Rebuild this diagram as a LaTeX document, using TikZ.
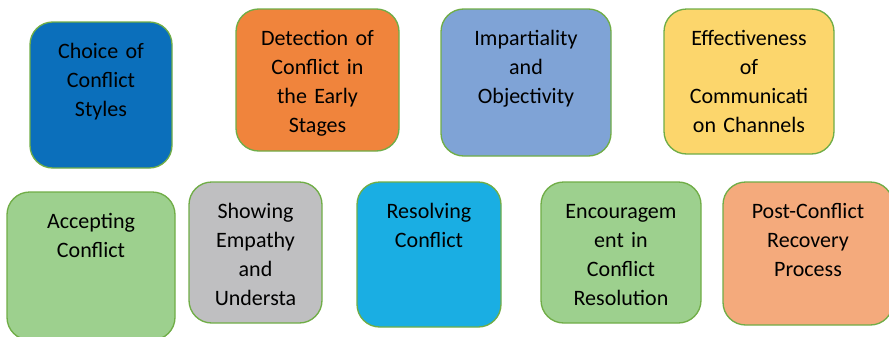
\documentclass[tikz,border=0pt]{standalone}
\usepackage{fontspec}
\setmainfont{Carlito}
\usepackage{tikz}
\usepackage{xcolor}

\definecolor{cardedge}{HTML}{70AD47}
\definecolor{cardblue}{HTML}{0B6FBB}
\definecolor{cardorange}{HTML}{F0843C}
\definecolor{cardsteel}{HTML}{7FA3D6}
\definecolor{cardgold}{HTML}{FCD66C}
\definecolor{cardgreen}{HTML}{9DD08E}
\definecolor{cardgrey}{HTML}{BFBFC1}
\definecolor{cardsky}{HTML}{1AAEE3}
\definecolor{cardpeach}{HTML}{F4AA7C}

\begin{document}
\begin{tikzpicture}[x=0.75pt,y=-0.75pt,
        card/.style={draw=cardedge,line width=1pt,rounded corners=17pt,inner sep=0pt},
        cardtext/.style={anchor=base,inner sep=0pt,align=center,text width=#1,
            font=\fontsize{16.5pt}{21.75pt}\selectfont},
        cardtext/.default=120pt]
        \clip (0,0) rectangle (889,336);
        % top row
        \node[card,fill=cardblue,minimum width=106.5pt,minimum height=109.5pt] (choice) at (101,95) {};
        \node[card,fill=cardorange,minimum width=122.25pt,minimum height=106.5pt] (detect) at (317.5,80) {};
        \node[card,fill=cardsteel,minimum width=127.5pt,minimum height=110.25pt] (impart) at (526,82.5) {};
        \node[card,fill=cardgold,minimum width=127.5pt,minimum height=108.75pt] (effect) at (749,81.5) {};
        % bottom row
        \node[card,fill=cardgreen,minimum width=126pt,minimum height=111pt] (accept) at (91,266) {};
        \node[card,fill=cardgrey,minimum width=99.75pt,minimum height=105.75pt] (empathy) at (255.5,252.5) {};
        \node[card,fill=cardsky,minimum width=108pt,minimum height=108.75pt] (resolve) at (429,254.5) {};
        \node[card,fill=cardgreen,minimum width=120pt,minimum height=105.75pt] (encourage) at (621,252.5) {};
        \node[card,fill=cardpeach,minimum width=127.5pt,minimum height=107.25pt] (recovery) at (808,253.5) {};
        % labels
        \node[cardtext] (choicetext) at ([yshift=-28pt]choice.north) {Choice of\\Conflict\\Styles};
        \node[cardtext] (detecttext) at ([yshift=-28pt]detect.north) {Detection of\\Conflict in\\the Early\\Stages};
        \node[cardtext] (imparttext) at ([yshift=-28pt]impart.north) {Impartiality\\and\\Objectivity};
        \node[cardtext] (effecttext) at ([yshift=-28pt]effect.north) {Effectiveness\\of\\Communicati\\on Channels};
        \node[cardtext] (accepttext) at ([yshift=-28pt]accept.north) {Accepting\\Conflict};
        \node[cardtext] (empathytext) at ([yshift=-28pt]empathy.north) {Showing\\Empathy\\and\\Understa};
        \node[cardtext] (resolvetext) at ([yshift=-28pt]resolve.north) {Resolving\\Conflict};
        \node[cardtext] (encouragetext) at ([yshift=-28pt]encourage.north) {Encouragem\\ent in\\Conflict\\Resolution};
        \node[cardtext] (recoverytext) at ([yshift=-28pt]recovery.north) {Post-Conflict\\Recovery\\Process};
\end{tikzpicture}
\end{document}
